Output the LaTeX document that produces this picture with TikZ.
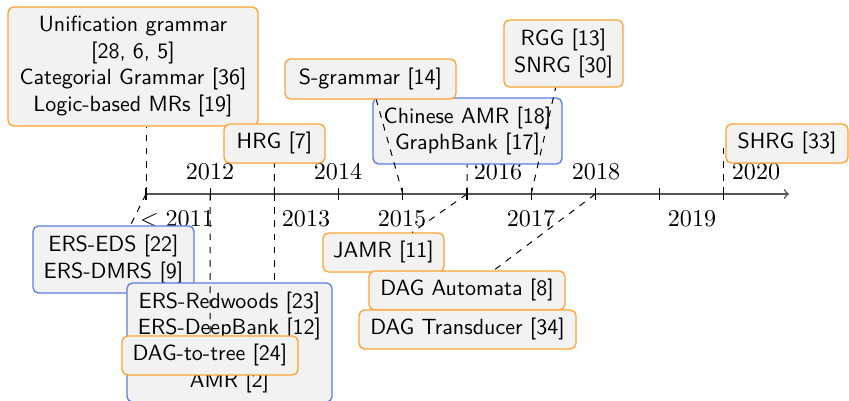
\documentclass[tikz,border=0pt]{standalone}
\usepackage{fontspec}
\definecolor{evorange}{RGB}{255,163,50}
\definecolor{evblue}{RGB}{92,125,225}
\definecolor{axisgray}{RGB}{85,85,85}
\tikzset{
  box/.style={draw, rounded corners=2.5pt, fill=black!5, line width=0.6pt,
    font=\sffamily, align=center, inner sep=0pt, minimum height=17.7pt},
  obox/.style={box, draw=evorange},
  bbox/.style={box, draw=evblue},
  link/.style={dashed, line width=0.45pt},
  axisline/.style={->, draw=axisgray, line width=0.7pt},
  tickmark/.style={line width=0.5pt},
  yr/.style={font=\fontsize{10.95}{13}\selectfont, anchor=base, inner sep=0pt},
}
\begin{document}
\begin{tikzpicture}[x=0.4545pt,y=-0.4545pt]
\useasboundingbox (0,0) rectangle (849,401);

% time axis with one tick per year
\foreach \i in {0,...,9} \coordinate (t\i) at ({146+64.2*\i},194);
\coordinate (axend) at (789,194);
\draw[axisline] (t0) -- (axend);
\foreach \i in {0,...,9} \draw[tickmark] (t\i) ++(0,-6) -- ++(0,12);

% year labels, alternating above and below
\node[yr] (y2011) at (177,227) {$<2011$};
\node[yr] (y2012) at (210,180) {2012};
\node[yr] (y2013) at (306,227) {2013};
\node[yr] (y2014) at (338,180) {2014};
\node[yr] (y2015) at (402,227) {2015};
\node[yr] (y2016) at (498,180) {2016};
\node[yr] (y2017) at (531,227) {2017};
\node[yr] (y2018) at (596,180) {2018};
\node[yr] (y2019) at (692,227) {2019};
\node[yr] (y2020) at (756,180) {2020};

% events
\node[obox, minimum width=113.6pt, minimum height=54.1pt] (unif) at (133,66.5)
  {Unification grammar\\{}[28, 6, 5]\\Categorial Grammar [36]\\Logic-based MRs [19]};
\node[bbox, minimum width=73.2pt, minimum height=30.5pt] (eds) at (113.5,259.5)
  {ERS-EDS [22]\\ERS-DMRS [9]};
\node[obox, minimum width=45.9pt] (hrg) at (274.5,143.5) {HRG [7]};
\node[bbox, minimum width=93.2pt, minimum height=54.1pt] (red) at (229.5,342.5)
  {ERS-Redwoods [23]\\ERS-DeepBank [12]\\\mbox{}\\AMR [2]};
\node[obox, minimum width=80pt] (dtt) at (210,355.5) {DAG-to-tree [24]};
\node[bbox, minimum width=85.9pt, minimum height=30pt] (chn) at (467.5,131)
  {Chinese AMR [18]\\GraphBank [17]};
\node[obox, minimum width=77.7pt, minimum height=18.2pt] (sg) at (370.5,79) {S-grammar [14]};
\node[obox, minimum width=55pt] (jamr) at (383.5,252.5) {JAMR [11]};
\node[obox, minimum width=54.1pt, minimum height=30.5pt] (rgg) at (563.5,53.5)
  {RGG [13]\\SNRG [30]};
\node[obox, minimum width=89.1pt] (aut) at (467,290.5) {DAG Automata [8]};
\node[obox, minimum width=98.6pt] (trd) at (467.5,329.5) {DAG Transducer [34]};
\node[obox, minimum width=55.5pt] (shrg) at (787,143.5) {SHRG [33]};

% dashed links from the axis to the events
\draw[link] (t0) -- (t0 |- unif.south);
\draw[link] (t0) -- (eds);
\draw[link] (t2) -- (hrg);
\draw[link] (t2) -- (t2 |- red.north);
\draw[link] (t1) -- (dtt);
\draw[link] (t5) -- (chn);
\draw[link] (t4) -- (sg);
\draw[link] (t5) -- (jamr);
\draw[link] (t6) -- (rgg);
\draw[link] (t7) -- (aut);
\draw[link] (t9) -- (t9 |- shrg.west);
\end{tikzpicture}
\end{document}
